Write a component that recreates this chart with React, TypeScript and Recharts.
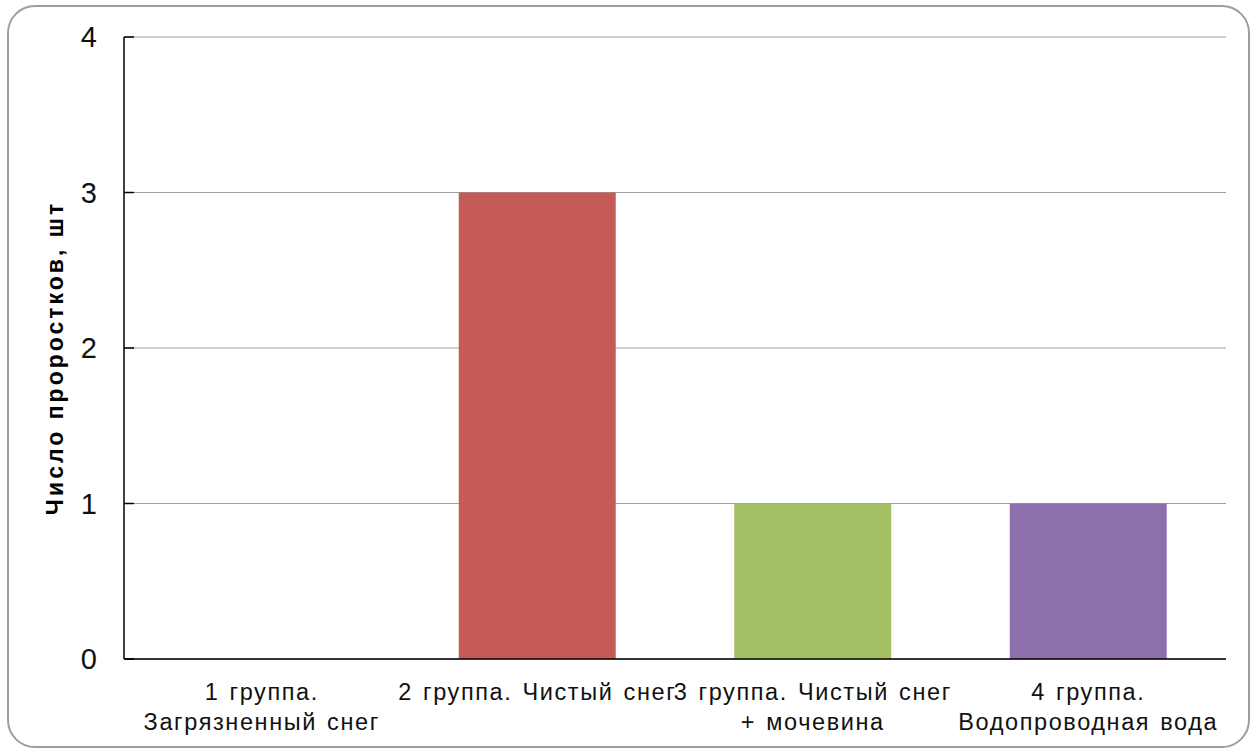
import { BarChart, Bar, XAxis, YAxis, CartesianGrid, Cell } from "recharts";

const GROUPS = [
  "1 группа.\nЗагрязненный снег",
  "2 группа. Чистый снег",
  "3 группа. Чистый снег\n+ мочевина",
  "4 группа.\nВодопроводная вода",
];
const SPROUTS = [0, 3, 1, 1];
const Y_TICKS = [0, 1, 2, 3, 4];
const COLORS = ["#4F81BD", "#C45B56", "#A4C064", "#8B70AC"];

const data = GROUPS.map((group, i) => ({ group, count: SPROUTS[i] }));

const font = "'Liberation Sans', Arial, sans-serif";

function GroupTick(props: any) {
  const { x, y, payload } = props;
  const lines = String(payload.value).split("\n");
  return (
    <text
      x={x}
      y={y}
      textAnchor="middle"
      fill="#111"
      fontSize={23.5}
      fontFamily={font}
      letterSpacing={1.6}
      wordSpacing={2}
    >
      {lines.map((line, i) => (
        <tspan key={i} x={x} dy={i === 0 ? 33 : 30}>
          {line}
        </tspan>
      ))}
    </text>
  );
}

export default function App() {
  return (
    <div style={{ position: "absolute", left: 0, top: 0, width: 1253, height: 751, background: "#fff" }}>
      <div
        style={{
          position: "absolute",
          left: 7,
          top: 5,
          width: 1243,
          height: 743,
          border: "2px solid #9e9e9e",
          borderRadius: 28,
          boxSizing: "border-box",
        }}
      />
      <div style={{ position: "absolute", left: 0, top: 0 }}>
        <BarChart
          width={1253}
          height={751}
          data={data}
          margin={{ top: 37, right: 27, bottom: 0, left: 0 }}
          barCategoryGap="21.5%"
        >
          <CartesianGrid vertical={false} stroke="#a0a0a0" strokeWidth={1} />
          <XAxis
            dataKey="group"
            height={92}
            interval={0}
            tickLine={false}
            axisLine={{ stroke: "#000", strokeWidth: 1.5 }}
            tick={<GroupTick />}
          />
          <YAxis
            width={124}
            domain={[0, 4]}
            ticks={Y_TICKS}
            interval={0}
            tickSize={-10}
            tickMargin={37}
            axisLine={{ stroke: "#000", strokeWidth: 1.5 }}
            tickLine={{ stroke: "#000", strokeWidth: 1.5 }}
            tick={{ fill: "#111", fontSize: 29, fontFamily: font }}
            label={{
              value: "Число проростков, шт",
              angle: -90,
              position: "center",
              dx: -7,
              dy: 10,
              style: {
                fontSize: 23,
                fontWeight: "bold",
                fill: "#000",
                fontFamily: font,
                letterSpacing: 3,
              },
            }}
          />
          <Bar dataKey="count" isAnimationActive={false}>
            {data.map((_, i) => (
              <Cell key={i} fill={COLORS[i % COLORS.length]} />
            ))}
          </Bar>
        </BarChart>
      </div>
    </div>
  );
}
